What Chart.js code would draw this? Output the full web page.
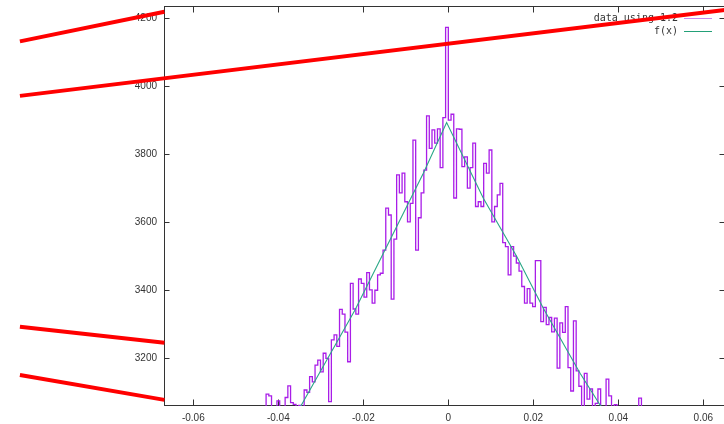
<!DOCTYPE html>
<html>
<head>
<meta charset="utf-8">
<script src="https://cdn.jsdelivr.net/npm/chart.js@4/dist/chart.umd.min.js"></script>
<style>
  html, body { margin: 0; padding: 0; background: #fff; overflow: hidden; width: 724px; height: 424px; }
  #wrap { width: 740px; height: 424px; }
</style>
</head>
<body>
<div id="wrap"><canvas id="c" width="740" height="424"></canvas></div>
<script>
// Histogram: regular bins starting at binStart, one count per bin
const binStart = -0.0448;
const binWidth = 0.00064;
const counts = [
  3020, 3030, 3040, 3095, 3090, 3040, 3030, 3075, 3050, 3045,
  3085, 3119, 3070, 3065, 3050, 3062, 3055, 3107, 3100, 3146,
  3131, 3180, 3195, 3160, 3215, 3200, 3073, 3254, 3269, 3235,
  3344, 3330, 3277, 3190, 3420, 3345, 3330, 3433, 3420, 3380,
  3452, 3401, 3362, 3400, 3445, 3450, 3518, 3641, 3621, 3374,
  3550, 3739, 3686, 3744, 3660, 3601, 3655, 3841, 3518, 3613,
  3686, 3753, 3912, 3817, 3871, 3832, 3874, 3760, 3907, 4172,
  3900, 3917, 3671, 3874, 3873, 3763, 3792, 3700, 3760, 3832,
  3646, 3660, 3646, 3773, 3744, 3812, 3601, 3646, 3680, 3714,
  3540, 3528, 3445, 3528, 3500, 3480, 3456, 3411, 3362, 3405,
  3362, 3352, 3487, 3487, 3308, 3350, 3299, 3320, 3278, 3318,
  3171, 3304, 3276, 3352, 3173, 3104, 3310, 3163, 3118, 3050,
  3156, 3080, 3110, 3050, 3068, 3110, 3040, 3030, 3139, 3090,
  3045, 3064, 3030, 3020, 3025, 3030, 3020, 3030, 3035, 3030,
  3083, 3030, 3020
];

// Fitted curve f(x)
const fitX = [-0.0355, -0.0347, -0.02196, -0.01214, -0.00588, -0.0004, 0.00824, 0.0161, 0.02235, 0.031, 0.0357, 0.0367];
const fitY = [3042, 3060, 3342, 3587, 3744, 3893, 3670, 3499, 3347, 3156, 3063, 3044];

// Overlay guide strokes: [x0, y0, x1, y1]
const guideLines = [
  [-0.1008, 4131, -0.0668, 4218],
  [-0.1008, 3971, 0.0655, 4224],
  [-0.1008, 3293, -0.0668, 3246],
  [-0.1008, 3151, -0.0668, 3078]
];

const xTicks = [-0.06, -0.04, -0.02, 0, 0.02, 0.04, 0.06];
const yTicks = [3200, 3400, 3600, 3800, 4000, 4200];

const legendItems = [
  { label: 'data using 1:2', color: '#c98cf0' },
  { label: 'f(x)', color: '#23a078' }
];

const histPoints = counts.map((v, i) => ({ x: binStart + (i + 0.5) * binWidth, y: v }));
const fitPoints = fitX.map((x, i) => ({ x: x, y: fitY[i] }));

const tickFont = { family: "'Liberation Sans', Arial, sans-serif", size: 10 };

// Box frame with inward (mirrored) ticks plus the key in the top-right corner
const framePlugin = {
  id: 'frame',
  beforeDatasetsDraw(chart) {
    const { ctx, chartArea: a, scales } = chart;
    const xs = scales.x, ys = scales.y;
    ctx.save();
    ctx.strokeStyle = '#333';
    ctx.lineWidth = 1;
    const L = a.left + 0.5, R = a.right - 0.5, T = a.top + 0.5, B = a.bottom - 0.5;
    ctx.strokeRect(L, T, R - L, B - T);
    ctx.beginPath();
    xTicks.forEach(v => {
      const px = Math.round(xs.getPixelForValue(v)) + 0.5;
      ctx.moveTo(px, B); ctx.lineTo(px, B - 6);
      ctx.moveTo(px, T); ctx.lineTo(px, T + 6);
    });
    yTicks.forEach(v => {
      const py = Math.round(ys.getPixelForValue(v)) + 0.5;
      ctx.moveTo(L, py); ctx.lineTo(L + 5, py);
      ctx.moveTo(R, py); ctx.lineTo(R - 5, py);
    });
    ctx.stroke();

    // key
    ctx.font = "10px 'DejaVu Sans Mono', monospace";
    ctx.textAlign = 'right';
    ctx.textBaseline = 'middle';
    legendItems.forEach((item, k) => {
      const ty = a.top + 12 + k * 13;
      ctx.fillStyle = '#333';
      ctx.fillText(item.label, a.left + 514, ty);
      ctx.strokeStyle = item.color;
      ctx.beginPath();
      ctx.moveTo(a.left + 520, ty + 0.5);
      ctx.lineTo(a.left + 548, ty + 0.5);
      ctx.stroke();
    });
    ctx.restore();
  }
};

const fmt = v => {
  const r = Math.round(v * 100) / 100;
  return r === 0 ? '0' : r.toFixed(2);
};

new Chart(document.getElementById('c'), {
  type: 'line',
  data: {
    datasets: [
      ...guideLines.map(l => ({
        label: '',
        data: [{ x: l[0], y: l[1] }, { x: l[2], y: l[3] }],
        borderColor: '#ff0000',
        borderWidth: 4,
        borderCapStyle: 'butt',
        pointRadius: 0,
        clip: false,
        order: 0
      })),
      {
        label: 'f(x)',
        data: fitPoints,
        borderColor: '#2aa887',
        borderWidth: 1.1,
        pointRadius: 0,
        order: 1
      },
      {
        label: 'data using 1:2',
        data: histPoints,
        stepped: 'middle',
        borderColor: '#a91de8',
        borderWidth: 1.3,
        pointRadius: 0,
        order: 2
      }
    ]
  },
  options: {
    responsive: false,
    animation: false,
    events: [],
    layout: { padding: { top: 6, right: 15, left: 0, bottom: 0 } },
    plugins: { legend: { display: false }, tooltip: { enabled: false } },
    scales: {
      x: {
        type: 'linear',
        min: -0.0669,
        max: 0.0651,
        afterBuildTicks: s => { s.ticks = xTicks.map(v => ({ value: v })); },
        afterFit: s => { s.height = 18; s.paddingLeft = 0; s.paddingRight = 0; },
        grid: { display: false, drawTicks: false },
        border: { display: false },
        ticks: { callback: v => fmt(v), font: tickFont, color: '#333', padding: 6, maxRotation: 0, autoSkip: false }
      },
      y: {
        type: 'linear',
        min: 3060,
        max: 4235,
        afterBuildTicks: s => { s.ticks = yTicks.map(v => ({ value: v })); },
        afterFit: s => { s.width = 164; s.paddingTop = 0; s.paddingBottom = 0; },
        grid: { display: false, drawTicks: false },
        border: { display: false },
        ticks: { callback: v => String(v), font: tickFont, color: '#333', padding: 7 }
      }
    }
  },
  plugins: [framePlugin]
});
</script>
</body>
</html>
